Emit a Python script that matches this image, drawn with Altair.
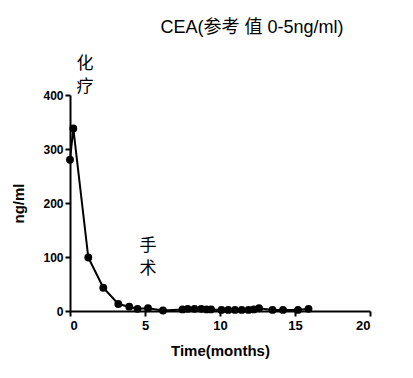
import altair as alt
import pandas as pd

months = [0, 0.22, 1.22, 2.22, 3.22, 3.95, 4.5, 5.2, 6.2, 7.5, 7.85, 8.3, 8.75, 9.1, 9.4,
          10.1, 10.55, 11.0, 11.45, 11.9, 12.25, 12.6, 13.5, 14.2, 15.2, 15.9]
cea = [280, 338, 99, 43, 13, 8, 4, 5, 1, 3, 4, 4, 4, 3, 3,
       2, 2, 2, 2, 2, 3, 5, 2, 2, 2, 4]

ann_text = ["化\n疗", "手\n术"]
ann_x = [1.0, 5.2]
ann_y = [458, 120]

FONT = "Liberation Sans, Noto Sans CJK SC"

df = pd.DataFrame({"t": months, "v": cea})
ann = pd.DataFrame({"label": ann_text, "x": ann_x, "y": ann_y})

xs = alt.Scale(domain=[0, 20], nice=False)
ys = alt.Scale(domain=[0, 400], nice=False)

xax = alt.Axis(values=[0, 5, 10, 15, 20], title="Time(months)", grid=False,
               domainColor="black", domainWidth=2, tickColor="black", tickWidth=2,
               tickSize=5, labelFont=FONT, labelFontSize=13, labelFontWeight="bold",
               labelColor="black", titleFont=FONT, titleFontSize=15, titleFontWeight="bold",
               titleColor="black", titlePadding=11, labelPadding=3)
yax = alt.Axis(values=[0, 100, 200, 300, 400], title="ng/ml", grid=False,
               domainColor="black", domainWidth=2, tickColor="black", tickWidth=2,
               tickSize=5, labelFont=FONT, labelFontSize=12, labelFontWeight="bold",
               labelColor="black", titleFont=FONT, titleFontSize=15, titleFontWeight="bold",
               titleColor="black", titlePadding=16, labelPadding=2)

base = alt.Chart(df).encode(
    x=alt.X("t:Q", scale=xs, axis=xax),
    y=alt.Y("v:Q", scale=ys, axis=yax),
)
line = base.mark_line(color="black", strokeWidth=2)
pts = base.mark_point(filled=True, color="black", size=62, opacity=1)

txt = alt.Chart(ann).mark_text(font="Noto Sans CJK SC", fontSize=17, lineBreak="\n",
                               lineHeight=23, color="black", baseline="middle").encode(
    x=alt.X("x:Q", scale=xs),
    y=alt.Y("y:Q", scale=ys),
    text="label:N",
)

chart = (line + pts + txt).properties(
    width=300, height=216,
    title=alt.TitleParams("CEA(参考  值 0-5ng/ml)", font=FONT, fontSize=18,
                          fontWeight="normal", color="black", anchor="middle",
                          dx=32, offset=18),
    autosize=alt.AutoSizeParams(type="none"),
    padding={"left": 70, "top": 95, "right": 43, "bottom": 67},
    background="white",
).configure_view(stroke=None)

chart.save("out.html", embed_options={"renderer": "svg", "actions": False})
